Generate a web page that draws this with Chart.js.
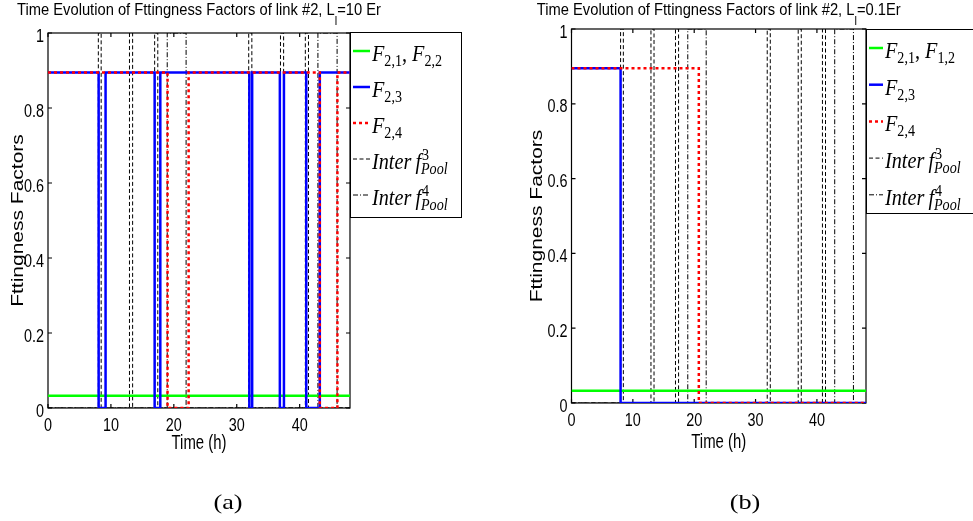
<!DOCTYPE html>
<html>
<head>
<meta charset="utf-8">
<title>Fittingness factors of link #2</title>
<script src="https://cdn.jsdelivr.net/npm/chart.js@4.4.1/dist/chart.umd.min.js"></script>
<style>
  body { margin: 0; background: #fff; }
  canvas { position: absolute; top: 0; }
</style>
</head>
<body>
<canvas id="chartA" width="486" height="521" style="left:0"></canvas>
<canvas id="chartB" width="487" height="521" style="left:486px"></canvas>
<script>
// interference of the pools: 1 while active, 0 otherwise (time in h)
const interf3Times = [0, 8.0, 8.45, 12.95, 13.45, 16.95, 17.45, 31.9, 32.4, 36.95, 37.45, 40.9, 41.4, 48];
const interf3Levels = [0, 1, 0, 1, 0, 1, 0, 1, 0, 1, 0, 1, 0, 0];
const interf4Times = [0, 18.95, 21.95, 42.9, 45.95, 48];
const interf4Levels = [0, 1, 0, 1, 0, 0];

// fittingness factors with L_l = 10 Er
const f21TimesA = [0, 48];
const f21LevelsA = [0.033, 0.033];
const f23TimesA = [0, 8.05, 9.15, 16.95, 17.85, 32.0, 32.45, 36.85, 37.5, 41.05, 43.2, 48];
const f23LevelsA = [0.895, 0, 0.895, 0, 0.895, 0, 0.895, 0, 0.895, 0, 0.895, 0.895];
const f24TimesA = [0, 19.0, 22.35, 43.2, 46.0, 48];
const f24LevelsA = [0.895, 0, 0.895, 0, 0.895, 0.895];

// fittingness factors with L_l = 0.1 Er
const f21TimesB = [0, 48];
const f21LevelsB = [0.033, 0.033];
const f23TimesB = [0, 8.0, 48];
const f23LevelsB = [0.895, 0, 0];
const f24TimesB = [0, 20.75, 48];
const f24LevelsB = [0.895, 0, 0];

const xTicks = [0, 10, 20, 30, 40];
const xTickLabels = ["0", "10", "20", "30", "40"];
const yTicks = [0, 0.2, 0.4, 0.6, 0.8, 1];
const yTickLabels = ["0", "0.2", "0.4", "0.6", "0.8", "1"];

// legend entries: main text, optional sub/superscript
const legendA = [
  [{ t: "F", it: true, sub: "2,1" }, { t: ", " }, { t: "F", it: true, sub: "2,2" }],
  [{ t: "F", it: true, sub: "2,3" }],
  [{ t: "F", it: true, sub: "2,4" }],
  [{ t: "Inter\u2009f", it: true, sup: "3", sub: "Pool", subIt: true }],
  [{ t: "Inter\u2009f", it: true, sup: "4", sub: "Pool", subIt: true }]
];
const legendB = [
  [{ t: "F", it: true, sub: "2,1" }, { t: ", " }, { t: "F", it: true, sub: "1,2" }],
  [{ t: "F", it: true, sub: "2,3" }],
  [{ t: "F", it: true, sub: "2,4" }],
  [{ t: "Inter\u2009f", it: true, sup: "3", sub: "Pool", subIt: true }],
  [{ t: "Inter\u2009f", it: true, sup: "4", sub: "Pool", subIt: true }]
];

const SANS = '"Liberation Sans", Arial, sans-serif';
const SERIF = '"Liberation Serif", "Times New Roman", serif';

function toPoints(times, levels) {
  return times.map((t, i) => ({ x: t, y: levels[i] }));
}

// text squeezed horizontally, returns the drawn width
function squeezed(ctx, str, x, y, sx, align) {
  const w = ctx.measureText(str).width * sx;
  ctx.save();
  ctx.translate(x, y);
  ctx.scale(sx, 1);
  ctx.textAlign = align || "left";
  ctx.textBaseline = "alphabetic";
  ctx.fillText(str, 0, 0);
  ctx.restore();
  return w;
}

function drawTokens(ctx, tokens, x, y, sx) {
  for (const tk of tokens) {
    ctx.font = (tk.it ? "italic " : "") + "23px " + SERIF;
    x += squeezed(ctx, tk.t, x, y, sx);
    let w = 0;
    if (tk.sup) {
      ctx.font = "16px " + SERIF;
      w = Math.max(w, squeezed(ctx, tk.sup, x + 1, y - 9, sx) + 1);
    }
    if (tk.sub) {
      ctx.font = (tk.subIt ? "italic " : "") + "16px " + SERIF;
      w = Math.max(w, squeezed(ctx, tk.sub, x, y + 5, sx));
    }
    x += w;
  }
}

function framePlugin(panel) {
  return {
    id: "frame",
    beforeDatasetsDraw(chart) {
      const ctx = chart.ctx;
      const a = chart.chartArea;
      const xs = chart.scales.x, ys = chart.scales.y;
      ctx.save();
      ctx.strokeStyle = "#000";
      ctx.lineWidth = 1.2;
      ctx.strokeRect(a.left, a.top, a.right - a.left, a.bottom - a.top);
      ctx.beginPath();
      xs.ticks.forEach(tk => {
        const px = xs.getPixelForValue(tk.value);
        ctx.moveTo(px, a.bottom); ctx.lineTo(px, a.bottom - 4);
        ctx.moveTo(px, a.top); ctx.lineTo(px, a.top + 4);
      });
      ys.ticks.forEach(tk => {
        const py = ys.getPixelForValue(tk.value);
        ctx.moveTo(a.left, py); ctx.lineTo(a.left + 4, py);
        ctx.moveTo(a.right, py); ctx.lineTo(a.right - 4, py);
      });
      ctx.stroke();
      ctx.restore();
    },
    afterDraw(chart) {
      const ctx = chart.ctx;
      const a = chart.chartArea;
      const xs = chart.scales.x, ys = chart.scales.y;
      const cx = (a.left + a.right) / 2;
      ctx.save();
      ctx.fillStyle = "#000";

      // tick labels
      ctx.font = "18px " + SANS;
      xs.ticks.forEach((tk, i) => {
        squeezed(ctx, xTickLabels[i], xs.getPixelForValue(tk.value), a.bottom + 23, 0.8, "center");
      });
      ys.ticks.forEach((tk, i) => {
        squeezed(ctx, yTickLabels[i], a.left - 4, ys.getPixelForValue(tk.value) + 8.5, 0.8, "right");
      });

      // axis titles
      ctx.font = "21px " + SANS;
      squeezed(ctx, "Time (h)", cx, a.bottom + panel.xlabelDy, 0.71, "center");
      ctx.save();
      ctx.translate(panel.ylabelX, (a.top + a.bottom) / 2);
      ctx.rotate(-Math.PI / 2);
      ctx.scale(1, 0.8);
      ctx.textAlign = "center";
      ctx.fillText("Fttingness Factors", 0, 0);
      ctx.restore();

      // title with subscript
      const sxT = 0.92;
      const main1 = "Time Evolution of Fttingness Factors of link #2, L";
      ctx.font = "16px " + SANS;
      const w1 = ctx.measureText(main1).width * sxT;
      const w3 = ctx.measureText(panel.titleEnd).width * sxT;
      ctx.font = "12px " + SANS;
      const w2 = ctx.measureText("l").width * sxT;
      let tx = cx - (w1 + w2 + w3) / 2;
      ctx.font = "16px " + SANS;
      tx += squeezed(ctx, main1, tx, 15, sxT);
      ctx.font = "12px " + SANS;
      tx += squeezed(ctx, "l", tx, 25, sxT);
      ctx.font = "16px " + SANS;
      squeezed(ctx, panel.titleEnd, tx, 15, sxT);

      // legend
      const lg = panel.legend;
      ctx.lineWidth = 1;
      ctx.strokeStyle = "#000";
      ctx.fillStyle = "#fff";
      ctx.fillRect(lg.x, lg.y, lg.w, lg.h);
      ctx.strokeRect(lg.x + 0.5, lg.y + 0.5, lg.w, lg.h);
      ctx.fillStyle = "#000";
      chart.data.datasets.forEach((ds, i) => {
        const ly = lg.y + 19 + i * lg.step;
        ctx.save();
        ctx.strokeStyle = ds.borderColor;
        ctx.lineWidth = ds.borderWidth;
        ctx.setLineDash(ds.borderDash || []);
        ctx.beginPath();
        ctx.moveTo(lg.x + 3, ly);
        ctx.lineTo(lg.x + 3 + lg.sample, ly);
        ctx.stroke();
        ctx.restore();
        drawTokens(ctx, panel.entries[i], lg.x + 5 + lg.sample, ly + 10, 0.88);
      });

      // caption under the panel
      ctx.font = "21px " + SERIF;
      squeezed(ctx, panel.caption, panel.capX, 509, 1.25, "center");
      ctx.restore();
    }
  };
}

function makeChart(id, panel, series) {
  const canvas = document.getElementById(id);
  const W = canvas.width, H = canvas.height;
  const datasets = [
    { data: toPoints(series.f21T, series.f21L), borderColor: "#00ff00", borderWidth: 2.5, order: 3 },
    { data: toPoints(series.f23T, series.f23L), borderColor: "#0000ff", borderWidth: 2.5, order: 2 },
    { data: toPoints(series.f24T, series.f24L), borderColor: "#ff0000", borderWidth: 2.5, borderDash: [3, 3], order: 1 },
    { data: toPoints(interf3Times, interf3Levels), borderColor: "#000", borderWidth: 1, borderDash: [4, 2.5], order: 5 },
    { data: toPoints(interf4Times, interf4Levels), borderColor: "#000", borderWidth: 1, borderDash: [5, 2, 1, 2], order: 4 }
  ];
  datasets.forEach(ds => {
    ds.stepped = true;
    ds.pointRadius = 0;
    ds.fill = false;
  });

  return new Chart(canvas, {
    type: "line",
    data: { datasets },
    options: {
      responsive: false,
      animation: false,
      devicePixelRatio: 1,
      events: [],
      layout: { padding: { left: 0, right: W - panel.right, top: panel.top, bottom: 0 } },
      plugins: { legend: { display: false }, tooltip: { enabled: false } },
      scales: {
        x: {
          type: "linear", min: 0, max: 48,
          ticks: { display: false },
          grid: { display: false },
          border: { display: false },
          afterBuildTicks: s => { s.ticks = xTicks.map(v => ({ value: v })); },
          afterFit: s => { s.height = H - panel.bottom; }
        },
        y: {
          type: "linear", min: 0, max: 1,
          ticks: { display: false },
          grid: { display: false },
          border: { display: false },
          afterBuildTicks: s => { s.ticks = yTicks.map(v => ({ value: v })); },
          afterFit: s => { s.width = panel.left; }
        }
      }
    },
    plugins: [framePlugin(panel)]
  });
}

makeChart("chartA", {
  left: 48, right: 350, top: 33, bottom: 408,
  titleEnd: "=10 Er", ylabelX: 23, xlabelDy: 41,
  legend: { x: 350, y: 32, w: 111, h: 185, step: 36, sample: 17 },
  entries: legendA, caption: "(a)", capX: 228
}, { f21T: f21TimesA, f21L: f21LevelsA, f23T: f23TimesA, f23L: f23LevelsA, f24T: f24TimesA, f24L: f24LevelsA });

makeChart("chartB", {
  left: 85.5, right: 380, top: 29, bottom: 403,
  titleEnd: "=0.1Er", ylabelX: 56, xlabelDy: 45,
  legend: { x: 380, y: 29, w: 130, h: 184, step: 36.7, sample: 14 },
  entries: legendB, caption: "(b)", capX: 259
}, { f21T: f21TimesB, f21L: f21LevelsB, f23T: f23TimesB, f23L: f23LevelsB, f24T: f24TimesB, f24L: f24LevelsB });
</script>
</body>
</html>
